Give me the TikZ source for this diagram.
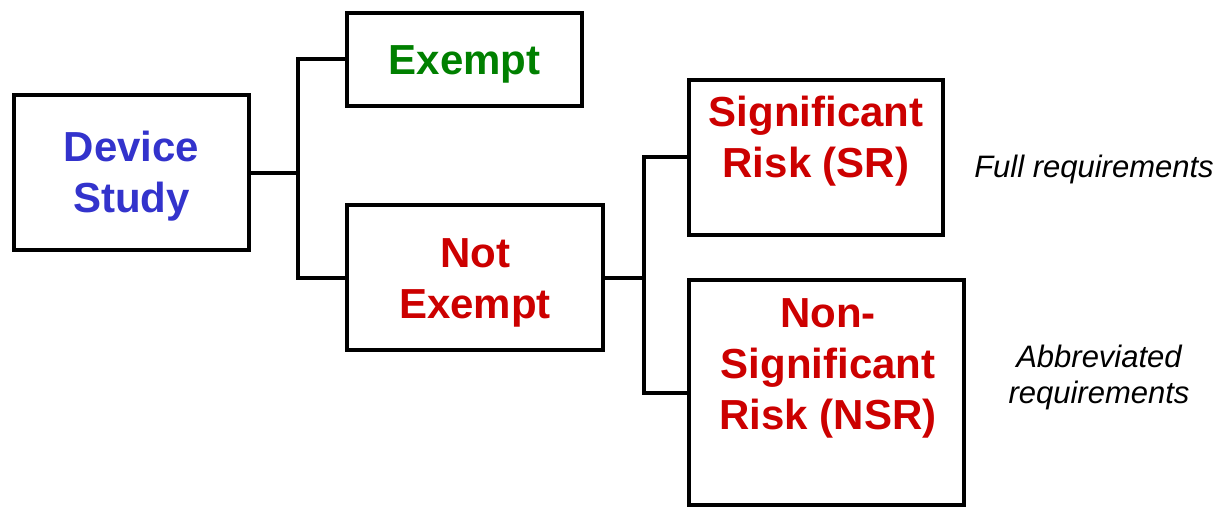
\documentclass[tikz,border=0pt]{standalone}
\usepackage{fontspec}
\setmainfont{Liberation Sans}
\definecolor{dsblue}{RGB}{51,51,204}
\definecolor{exgreen}{RGB}{0,128,0}
\definecolor{nred}{RGB}{204,0,0}
\begin{document}
\begin{tikzpicture}[x=1pt,y=-1pt,
  box/.style={draw=black, line width=4pt, rectangle, inner sep=0pt},
  lbl/.style={font=\fontsize{42}{51}\selectfont\bfseries, align=center, inner sep=0pt},
  note/.style={font=\fontsize{31}{36}\selectfont\itshape, align=center, inner sep=0pt},
  conn/.style={line width=4pt}]
\useasboundingbox (0,0) rectangle (1226,508);
% boxes
\node[box, minimum width=235pt, minimum height=155pt] (ds) at (131.5,172.5) {};
\node[box, minimum width=235pt, minimum height=93pt] (ex) at (464.5,59.5) {};
\node[box, minimum width=256pt, minimum height=145pt] (nex) at (475,277.5) {};
\node[box, minimum width=254pt, minimum height=155pt] (sr) at (816,157.5) {};
\node[box, minimum width=275pt, minimum height=225pt] (nsr) at (826.5,392.5) {};
% labels
\node[lbl, text=dsblue] (dst) at (131.5,176) {Device\\Study};
\node[lbl, text=exgreen] (ext) at (464.5,64) {Exempt};
\node[lbl, text=nred] (next) at (475,283) {Not\\Exempt};
\node[lbl, text=nred] (srt) at (816,141.5) {Significant\\Risk (SR)};
\node[lbl, text=nred] (nsrt) at (828,368) {Non-\\Significant\\Risk (NSR)};
\node[note] (full) at (1094,169) {Full requirements};
\node[note] (abbr) at (1099,377) {Abbreviated\\requirements};
% connectors
\coordinate (j1) at (298,172.5);
\coordinate (j2) at (644,277.5);
\draw[conn] (ds.east) -- (j1);
\draw[conn] (j1) |- (ex.west);
\draw[conn] (j1) |- (nex.west);
\draw[conn] (nex.east) -- (j2);
\draw[conn] (j2) |- (sr.west);
\draw[conn] (j2) |- (nsr.west);
\end{tikzpicture}
\end{document}
